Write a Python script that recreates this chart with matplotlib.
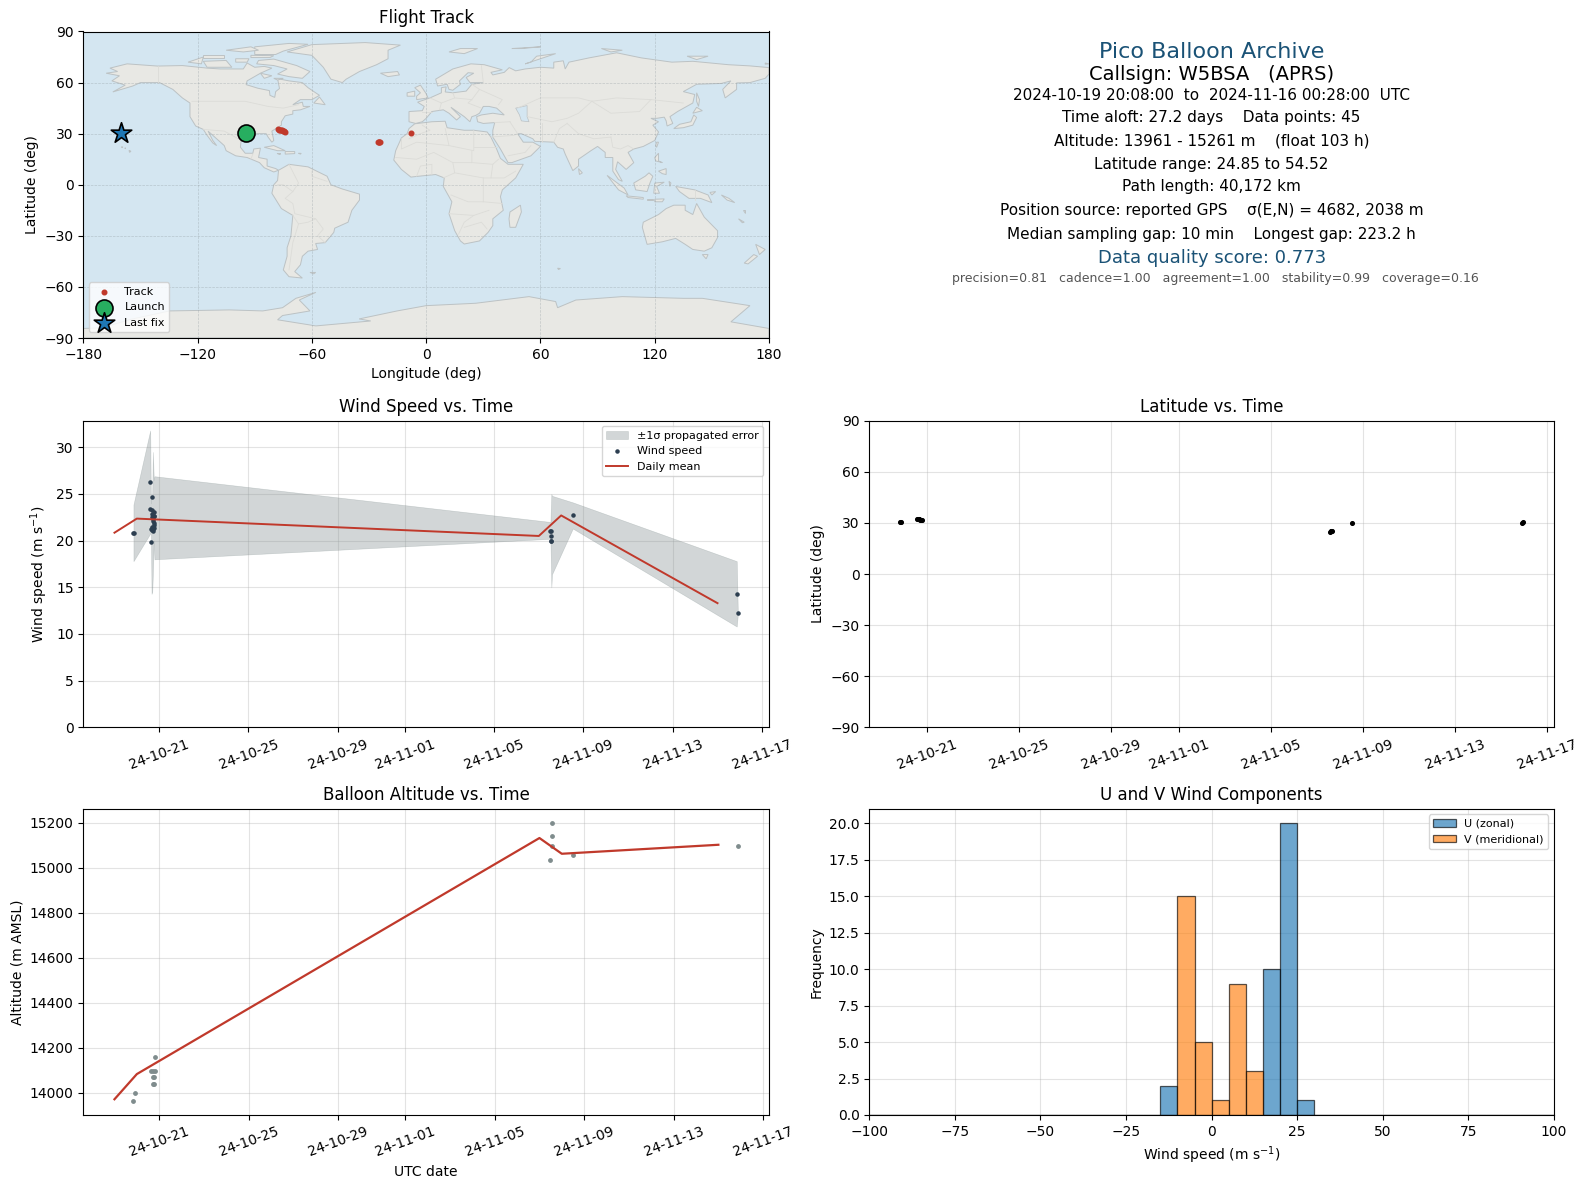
import datetime as dt
import matplotlib
matplotlib.use("Agg")
import matplotlib.pyplot as plt
import matplotlib.dates as mdates
from matplotlib.patches import Polygon

W, H = 1588, 1189
REF = dt.datetime(2024, 10, 21)
REF2 = dt.datetime(2024, 11, 9)

# ---------- data ----------
wind_days_a = [-1.15, -1.12, -0.39, -0.30, -0.39, -0.32, -0.22, -0.25, -0.21, -0.32, -0.22,
               -0.32, -0.36, -0.29, -0.26, -0.31, -0.38, -0.34, -0.27, -0.24, -0.30, -0.28, -0.23]
wind_vals_a = [20.86, 20.86, 26.3, 24.7, 23.4, 23.3, 23.1, 22.6, 22.6, 22.5, 21.9,
               21.5, 21.3, 21.25, 21.0, 21.2, 19.9 , 22.9, 22.3, 21.7, 21.1, 22.1, 21.4]
wind_days_b = [-1.52, -1.44, -1.44, -1.44, -1.47, -0.48, 6.86, 6.91]
wind_vals_b = [21.07, 21.07, 20.46, 20.0, 19.96, 22.7, 14.3, 12.2]

band_days_a = [-1.15, -0.40, -0.37, -0.34, -0.31, -0.28, -0.24, -0.21]
band_high_a = [23.86, 31.8, 24.0, 24.8, 24.9, 29.5, 26.5, 26.9]
band_low_a = [17.8, 20.75, 21.5, 14.3, 14.5, 16.5, 20.0, 18.0]
band_days_b = [-1.48, -1.44, -1.41, -0.48, 6.86, 6.91]
band_high_b = [22.0, 25.0, 24.8, 24.1, 17.8, 12.3]
band_low_b = [20.2, 15.0, 16.4, 21.3, 10.8, 12.1]

mean_dates = ["2024-10-19", "2024-10-20", "2024-11-07", "2024-11-08", "2024-11-15"]
wind_mean = [20.85, 22.36, 20.5, 22.7, 13.3]
alt_mean = [13970, 14082, 15132, 15062, 15102]

alt_days_a = [-1.15, -1.10, -0.21, -0.36, -0.255, -0.20, -0.29, -0.23, -0.29, -0.25]
alt_vals_a = [13961, 14000, 14159, 14096, 14096, 14096, 14070, 14070, 14039, 14039]
alt_days_b = [-1.44, -1.44, -1.44, -1.52, -0.48, 6.87]
alt_vals_b = [15200, 15139, 15098, 15035, 15058, 15098]

lat_days_a = [-1.15, -1.12, -0.42, -0.40, -0.36, -0.33, -0.30, -0.25, -0.22]
lat_vals_a = [30.6, 30.6, 32.3, 32.3, 32.1, 32.0, 31.8, 31.6, 31.5]
lat_days_b = [-1.44, -1.42, -1.40, -1.38, -0.47, 6.93, 6.95]
lat_vals_b = [24.85, 25.0, 25.1, 25.2, 30.0, 30.0, 30.8]

track_lon = [-77.8, -77.0, -76.3, -75.6, -75.0, -74.3, -74.8, -76.5, -25.5, -25.0, -24.5, -24.0, -7.9]
track_lat = [32.6, 32.4, 32.2, 32.0, 31.6, 31.2, 31.5, 32.0, 25.0, 25.1, 25.2, 25.1, 30.4]
launch_lon, launch_lat = [-94.5], [30.4]
last_lon, last_lat = [-160.0], [30.4]

hist_edges = list(range(-100, 105, 5))
u_bins = [-12.5, 17.5, 22.5, 27.5]
u_counts = [2, 10, 20, 1]
v_bins = [-7.5, -2.5, 2.5, 7.5, 12.5]
v_counts = [15, 5, 1, 9, 3]

info_lines = [
    "2024-10-19 20:08:00  to  2024-11-16 00:28:00  UTC",
    "Time aloft: 27.2 days    Data points: 45",
    "Altitude: 13961 - 15261 m    (float 103 h)",
    "Latitude range: 24.85 to 54.52",
    "Path length: 40,172 km",
    "Position source: reported GPS    \u03c3(E,N) = 4682, 2038 m",
    "Median sampling gap: 10 min    Longest gap: 223.2 h",
]

north_america = [(-168,65.5),(-162,66.5),(-166,68.5),(-157,71),(-141,69.7),(-128,70),(-115,68.5),(-108,68),(-96,68),(-94,71.5),(-90,69),(-85,69.5),(-81,68.5),(-87,65.5),(-94,61),(-94.5,58.8),(-88.4,56.7),(-82.3,55.3),(-82,52.5),(-79.5,51.3),(-79,54.7),(-77,56.5),(-78,62.3),(-72,61),(-65,60),(-62,57),(-56,52.5),(-60,50),(-66,50),(-70,47),(-65,48.5),(-64.5,46),(-61,46),(-66,44),(-70,43.5),(-70,41.5),(-74,40.5),(-76,37),(-76,35),(-81,31.5),(-80,26),(-81,25),(-83,28),(-84,30),(-89,30),(-90,29),(-94,29.5),(-97,28),(-97.5,22),(-95,18.5),(-91,18.5),(-90.5,21),(-87,21.5),(-88,16),(-83.5,15),(-83.5,11),(-79,9.5),(-77.5,8.5),(-80,7.5),(-85,10),(-87.5,13),(-94,16),(-100,17),(-105,20),(-106,23),(-112,29),(-114.5,31.5),(-112,26),(-110,23),(-112,24.5),(-115,29),(-117,32.5),(-121,34.5),(-124,40),(-124,48),(-128,51),(-133,56),(-140,60),(-150,60),(-154,58),(-164.5,54.5),(-158,58.5),(-165,61),(-161,64)]
greenland = [(-73,78),(-60,82.3),(-32,83.5),(-13.5,82),(-20,79),(-20,74),(-26,70.5),(-35,66.5),(-42,62),(-44,60),(-50,62),(-54,69),(-60,76)]
south_america = [(-77.5,8.5),(-72,12),(-62,10.5),(-52,5),(-50,0),(-44,-2.5),(-35,-5.5),(-35,-9),(-39,-15),(-41,-22),(-48,-25.5),(-48.5,-28),(-53,-34),(-58,-34.5),(-57,-38),(-62,-39),(-65,-42),(-66,-47),(-69,-51),(-65,-54.8),(-72,-54),(-75,-50),(-73,-42),(-73,-37),(-71,-30),(-70,-18),(-76,-14),(-81,-5),(-80,0),(-78,2.5)]
africa = [(-6,35.8),(3,37),(10,37.3),(11,33.5),(20,32),(25,32),(32,31),(34,28),(37,21),(39,15.5),(43,12),(51,12),(47,4),(40,-3),(39,-7),(40.5,-15),(35,-20),(35,-24),(32.5,-28),(28,-33),(20,-34.8),(18,-33),(15,-27),(12,-17),(13.5,-10),(9,-1),(9.5,4),(5,6),(-4,5),(-8,4.5),(-13,9),(-17,14.5),(-16,20),(-13,27.5),(-10,30),(-9,33)]
eurasia = [(-9,37),(-9,43),(-2,43.5),(-1,46),(-4.5,48.5),(2,51),(8,54),(8,57),(10.5,57.5),(10,54.5),(14,54),(21,55),(24,59),(30,60),(23,60),(21,63),(25,65.5),(22,65.8),(17.5,61),(18,59),(14,55.5),(12,56),(11,59),(6,58),(5,62),(14,68),(23.5,71),(30.5,70.5),(40,67.5),(34,66),(35,64.5),(41,66),(43.6,68.8),(47,66.9),(52,68),(60,69),(67,68.5),(67,72),(72,72.8),(73,68),(75,72),(85.5,74.5),(100,77.5),(113,74.5),(129,72),(140,72.5),(158.7,70.5),(170,69.8),(180,68.8),(180,65),(178,62.5),(170,60),(163,59.8),(163,56),(157,51),(155.7,56),(160,61),(155,59.5),(142,59),(135,54.7),(141,53),(140,48),(132,43),(128,40),(129.5,36),(126.5,34.5),(126,37.5),(125,39.7),(121,39),(118,39),(122,37),(119,35),(122,31),(120,26),(114,22.5),(109,21),(106,19),(109,13),(105,9),(100.5,13.5),(99.5,9),(103,2),(101,3),(98,8),(98,16),(94,16),(94,19),(90,22.5),(86.5,20),(80,15),(80,11),(77,8.3),(73,18),(72,21),(69,22),(67,25),(57,25.5),(56,27),(50,30),(48,30),(51,25),(56,25),(60,22.5),(55,17),(45,13),(43,13),(39,21),(35,28),(35,32),(36,36.5),(30,36),(27,37),(26.5,40),(29,41),(35,42),(41,41),(37,45),(33,46),(30,46),(28,42),(26,40.7),(24,40),(23,37),(20,40),(13,45.5),(18,40),(16,38),(12,42),(9,44),(3,43),(0,39),(-2,37),(-5.5,36)]
australia = [(113.5,-25),(114,-22),(122,-17.5),(126,-14),(130,-12),(136,-12),(136,-15),(140,-17.5),(142,-11),(146,-19),(153,-27),(153,-31),(150,-37),(146,-39),(140,-38),(136,-35),(131,-31.5),(124,-33.5),(116,-35),(115,-31)]
antarctica = [(-180,-90),(-180,-84.4),(-170,-84),(-155,-79),(-134.7,-74.1),(-103.3,-73.5),(-85.8,-74.1),(-75.4,-72.2),(-68.4,-66.7),(-57.9,-63.2),(-66.6,-67.7),(-61,-74.1),(-75.4,-76.8),(-78,-79.3),(-57.9,-82.9),(-29.1,-80),(-35.2,-78.8),(-15.2,-74.1),(0,-71),(26,-69.6),(54,-65.7),(68,-68.6),(69,-72.2),(78.6,-67.7),(103,-65.7),(135,-66.7),(145,-66.7),(170,-71),(160,-80.5),(180,-84.4),(180,-90)]
islands = [
    [(-88,73),(-80,73.8),(-68,70),(-61,66.5),(-65,62.5),(-72,63.5),(-78,65),(-73,68),(-80,70),(-89,71)],
    [(-117,72.5),(-105,73),(-102,69),(-115,69)],
    [(-90,76.5),(-90,81),(-72,83),(-62,82.5),(-75,78.5),(-79,76.5)],
    [(-125,72),(-117,75),(-118,71)],
    [(-92,76),(-80,75.8),(-82,74.7),(-92,74.7)],
    [(-117,76.3),(-106,76.3),(-106,74.7),(-117,74.7)],
    [(-105,79),(-92,81),(-88,79),(-96,78)],
    [(-100,74),(-93,74),(-94,72),(-100,72)],
    [(-87,65.5),(-81,64),(-85,62.5)],
    [(-80,62.5),(-75,62.5),(-78,61.5)],
    [(-59,48),(-56,51.5),(-53,47)],
    [(-85,22),(-80,23),(-74,20),(-78,20)],
    [(-74,19.5),(-69,19.5),(-69,18.3),(-74,18)],
    [(-78.3,18.4),(-76.3,18.2),(-77,17.8)],
    [(-67,18.5),(-65.6,18.4),(-66,18)],
    [(-160,22.2),(-159.3,22.2),(-159.5,21.8)],
    [(-158.2,21.6),(-157.7,21.5),(-158,21.2)],
    [(-156,20.2),(-155,19.7),(-155.7,19)],
    [(-5,50),(1,51),(0,53.5),(-3,58.5),(-6,57),(-3,54),(-5,52)],
    [(-10,52),(-6,52),(-6,55),(-10,54)],
    [(-24,65.5),(-15,66.5),(-14,64.5),(-20,63.5)],
    [(12,78),(18,80),(27,80),(20,77)],
    [(45,80),(60,81),(50,80)],
    [(52,71),(68,77),(58,75.5),(55,72)],
    [(92,80),(103,79),(97,78)],
    [(137,75.5),(148,75.5),(142,73.5)],
    [(178,71.5),(-180+360,71),(178,70.8)],
    [(142,54),(143.5,50),(143,46),(142,49)],
    [(130,33),(135,33.5),(140,35),(142,39.5),(140.5,41),(139,37),(133,35.5)],
    [(140,42),(145,43.5),(142,45.5)],
    [(120.5,23),(121,25),(122,25),(121,22)],
    [(120,16),(122,18.5),(122,14),(124,13),(120.5,14)],
    [(122,8),(126,9.5),(126,6),(124,6.5)],
    [(109,1),(115,5),(117,7),(119,5),(117.5,1),(116,-4),(110,-3)],
    [(95,5.5),(104,-2),(106,-6),(101,-3)],
    [(105,-6.5),(114,-7.5),(114,-8.5),(106,-7.5)],
    [(116,-8.3),(119,-8.3),(119,-9),(116,-9)],
    [(120,-8.5),(125,-8.3),(124,-10),(120,-10)],
    [(119.5,-5),(120,1),(125,1.5),(121,-1),(122.5,-5)],
    [(127.5,2),(128.5,1),(128,-1)],
    [(131,-1),(141,-3),(148,-6),(150,-10.5),(144,-8),(138,-8),(133,-4)],
    [(149,-4.5),(152,-4),(150,-6)],
    [(155,-6),(159,-8),(162,-10.5),(158,-9)],
    [(166.5,-15),(167.5,-15),(167.5,-16.5)],
    [(164,-20),(167,-22),(166,-22.3)],
    [(145,-41),(148,-41),(147,-43.5)],
    [(173,-35),(178,-38),(175,-41)],
    [(172,-41),(174,-42),(169,-46.5),(167,-46)],
    [(49.5,-12),(50,-16),(47,-25),(44,-25),(43.5,-20),(44,-16)],
    [(80,9.5),(82,7),(80.5,6)],
    [(-61,-51.5),(-58,-51.5),(-59,-52.3)],
    [(69,-49),(70.5,-49.2),(69.5,-49.8)],
]
lakes = [
    [(47,45),(53,46.5),(53,40),(54,37),(50,37.5),(49,41)],
]
borders = [
    [(-141,69.7),(-141,60)],
    [(-123,49),(-95,49),(-83,46),(-75,45),(-67,47)],
    [(-117,32.5),(-106,31.5),(-97,26)],
    [(-92,15),(-91,18)],
    [(-72,12),(-67,1),(-70,-4),(-74,-8),(-70,-11),(-69,-17),(-58,-20),(-54,-26),(-57,-30),(-53,-34)],
    [(-70,-18),(-67,-23),(-70,-34),(-72,-50)],
    [(-60,8),(-60,5),(-52,2)],
    [(-78,0),(-75,0),(-70,-4)],
    [(-58,-20),(-62,-22),(-67,-23)],
    [(-9,27),(-3,30),(2,32),(-2,35)],
    [(-13,27),(-13,21),(-5,25),(12,23),(10,33)],
    [(12,23),(25,20),(25,32)],
    [(25,22),(37,22)],
    [(-16,16),(-5,15),(4,19),(14,13),(24,13),(24,20)],
    [(14,13),(15,7),(9,4)],
    [(24,13),(35,12),(38,15)],
    [(35,12),(34,4),(41,4),(47,8)],
    [(15,7),(30,4),(34,4)],
    [(30,4),(30,-10),(40,-11)],
    [(13,-6),(22,-10),(30,-10)],
    [(12,-17),(25,-18),(33,-15)],
    [(17,-29),(20,-22),(25,-18)],
    [(20,-25),(29,-22),(32,-26)],
    [(-5,5),(-3,11),(3,12),(3,6)],
    [(-2,43),(3,43)],
    [(2,51),(8,48),(7,44)],
    [(8,48),(15,51),(14,54)],
    [(15,51),(24,50),(22,48),(29,45)],
    [(24,59),(28,56),(24,50)],
    [(28,56),(40,50),(38,47)],
    [(30,60),(29,70)],
    [(48,45),(60,51),(80,51),(87,49)],
    [(87,49),(100,51),(118,50),(135,48)],
    [(87,49),(97,42),(112,43),(118,50)],
    [(53,40),(66,37),(74,39),(80,42),(87,49)],
    [(44,37),(48,30)],
    [(44,37),(36,36.5)],
    [(61,36),(61,25)],
    [(74,36),(70,33),(67,25)],
    [(74,36),(80,30),(88,27),(97,28)],
    [(97,28),(98,22),(102,21),(106,23),(109,21)],
    [(34,28),(46,29),(48,30)],
    [(43,17),(52,19),(55,23)],
    [(141,-3),(141,-9)],
]

# ---------- helpers ----------
def box(l, r, t, b):
    return [l / W, 1 - b / H, (r - l) / W, (b - t) / H]

def a_dates(days):
    return [REF + dt.timedelta(days=d) for d in days]

def b_dates(days):
    return [REF2 + dt.timedelta(days=d) for d in days]

def dateaxis(ax):
    ax.xaxis.set_major_locator(mdates.AutoDateLocator())
    ax.xaxis.set_major_formatter(mdates.DateFormatter("%y-%m-%d"))
    ax.tick_params(axis="x", rotation=20)
    ax.grid(True, color="#b0b0b0", alpha=0.35, lw=0.8)
    ax.set_axisbelow(True)

RED = "#c0392b"
NAVY = "#2c3e50"
GREY = "#7f8c8d"
BLUE = "#1a5276"
mdt = [dt.datetime.fromisoformat(s) for s in mean_dates]

fig = plt.figure(figsize=(W / 100, H / 100), dpi=100)
L1, R1, L2, R2 = 83.3, 769, 869.3, 1554

# ---------- map ----------
ax = fig.add_axes(box(L1, R1, 31.5, 338))
ax.set_facecolor("#d4e6f1")
for poly in [north_america, greenland, south_america, africa, eurasia, australia, antarctica] + islands:
    ax.add_patch(Polygon(poly, closed=True, fc="#e8e8e4", ec="#bcc2c4", lw=0.7, zorder=1))
for poly in lakes:
    ax.add_patch(Polygon(poly, closed=True, fc="#d4e6f1", ec="#bcc2c4", lw=0.5, zorder=1.1))
for line in borders:
    xs, ys = zip(*line)
    ax.plot(xs, ys, color="#dcdcd8", lw=0.6, zorder=1.2)
ax.grid(True, color="#8a9499", alpha=0.4, lw=0.5, ls="--", zorder=1.5)
ax.scatter(track_lon, track_lat, s=11, color=RED, label="Track", zorder=3)
ax.scatter(launch_lon, launch_lat, s=150, color="#27ae60", ec="black", lw=1.2, label="Launch", zorder=4)
ax.scatter(last_lon, last_lat, s=240, marker="*", color="#1f77b4", ec="black", lw=1.2, label="Last fix", zorder=4)
ax.set_xlim(-180, 180)
ax.set_ylim(-90, 90)
ax.set_xticks(range(-180, 181, 60))
ax.set_yticks(range(-90, 91, 30))
ax.set_xlabel("Longitude (deg)")
ax.set_ylabel("Latitude (deg)")
ax.set_title("Flight Track", fontsize=12)
ax.legend(loc="lower left", fontsize=8)

# ---------- text panel ----------
tx = fig.add_axes([0, 0, 1, 1], frameon=False)
tx.set_axis_off()
tx.set_xlim(0, W)
tx.set_ylim(H, 0)
cx = (L2 + R2) / 2
tx.text(cx, 51.6, "Pico Balloon Archive", fontsize=16, color=BLUE, ha="center", va="center")
tx.text(cx, 74, "Callsign: W5BSA   (APRS)", fontsize=14, color="black", ha="center", va="center")
for y, s in zip([95, 117.5, 141, 164, 187, 210.5, 234], info_lines):
    tx.text(cx, y, s, fontsize=11, color="black", ha="center", va="center")
tx.text(cx, 258, "Data quality score: 0.773", fontsize=13, color=BLUE, ha="center", va="center")
tx.text(cx + 4, 278.5, "precision=0.81   cadence=1.00   agreement=1.00   stability=0.99   coverage=0.16",
        fontsize=9, color="#555555", ha="center", va="center")

# ---------- wind ----------
ax = fig.add_axes(box(L1, R1, 420.7, 727.3))
ax.fill_between(a_dates(band_days_a) + b_dates(band_days_b), band_low_a + band_low_b, band_high_a + band_high_b,
                color=GREY, alpha=0.35, lw=0.4, label="\u00b11\u03c3 propagated error")
ax.scatter(a_dates(wind_days_a) + b_dates(wind_days_b), wind_vals_a + wind_vals_b, s=5, color=NAVY, label="Wind speed", zorder=3)
ax.plot(mdt, wind_mean, color=RED, lw=1.4, label="Daily mean", zorder=4)
ax.set_ylim(0, 32.85)
ax.set_yticks(range(0, 31, 5))
ax.set_ylabel("Wind speed (m s$^{-1}$)")
ax.set_title("Wind Speed vs. Time", fontsize=12)
dateaxis(ax)
ax.legend(loc="upper right", fontsize=8)

# ---------- latitude ----------
ax = fig.add_axes(box(L2, R2, 420.7, 727.3))
ax.scatter(a_dates(lat_days_a) + b_dates(lat_days_b), lat_vals_a + lat_vals_b, s=7, color="black", zorder=3)
ax.set_ylim(-90, 90)
ax.set_yticks(range(-90, 91, 30))
ax.set_ylabel("Latitude (deg)")
ax.set_title("Latitude vs. Time", fontsize=12)
dateaxis(ax)

# ---------- altitude ----------
ax = fig.add_axes(box(L1, R1, 808.8, 1115))
ax.scatter(a_dates(alt_days_a) + b_dates(alt_days_b), alt_vals_a + alt_vals_b, s=6, color=GREY, zorder=3)
ax.plot(mdt, alt_mean, color=RED, lw=1.6, zorder=4)
ax.set_ylim(13900, 15262)
ax.set_yticks(range(14000, 15201, 200))
ax.set_xlabel("UTC date")
ax.set_ylabel("Altitude (m AMSL)")
ax.set_title("Balloon Altitude vs. Time", fontsize=12)
dateaxis(ax)

# ---------- histogram ----------
ax = fig.add_axes(box(L2, R2, 808.8, 1115))
ax.hist(u_bins, bins=hist_edges, weights=u_counts, color="#1f77b4", alpha=0.65, ec="black", lw=0.9, label="U (zonal)", zorder=2)
ax.hist(v_bins, bins=hist_edges, weights=v_counts, color="#ff7f0e", alpha=0.65, ec="black", lw=0.9, label="V (meridional)", zorder=2)
ax.set_xlim(-100, 100)
ax.set_ylim(0, 21)
ax.set_xticks(range(-100, 101, 25))
ax.set_xlabel("Wind speed (m s$^{-1}$)")
ax.set_ylabel("Frequency")
ax.set_title("U and V Wind Components", fontsize=12)
ax.grid(True, color="#b0b0b0", alpha=0.35, lw=0.8)
ax.set_axisbelow(True)
ax.legend(loc="upper right", fontsize=8)

fig.savefig("out.png", dpi=100)
